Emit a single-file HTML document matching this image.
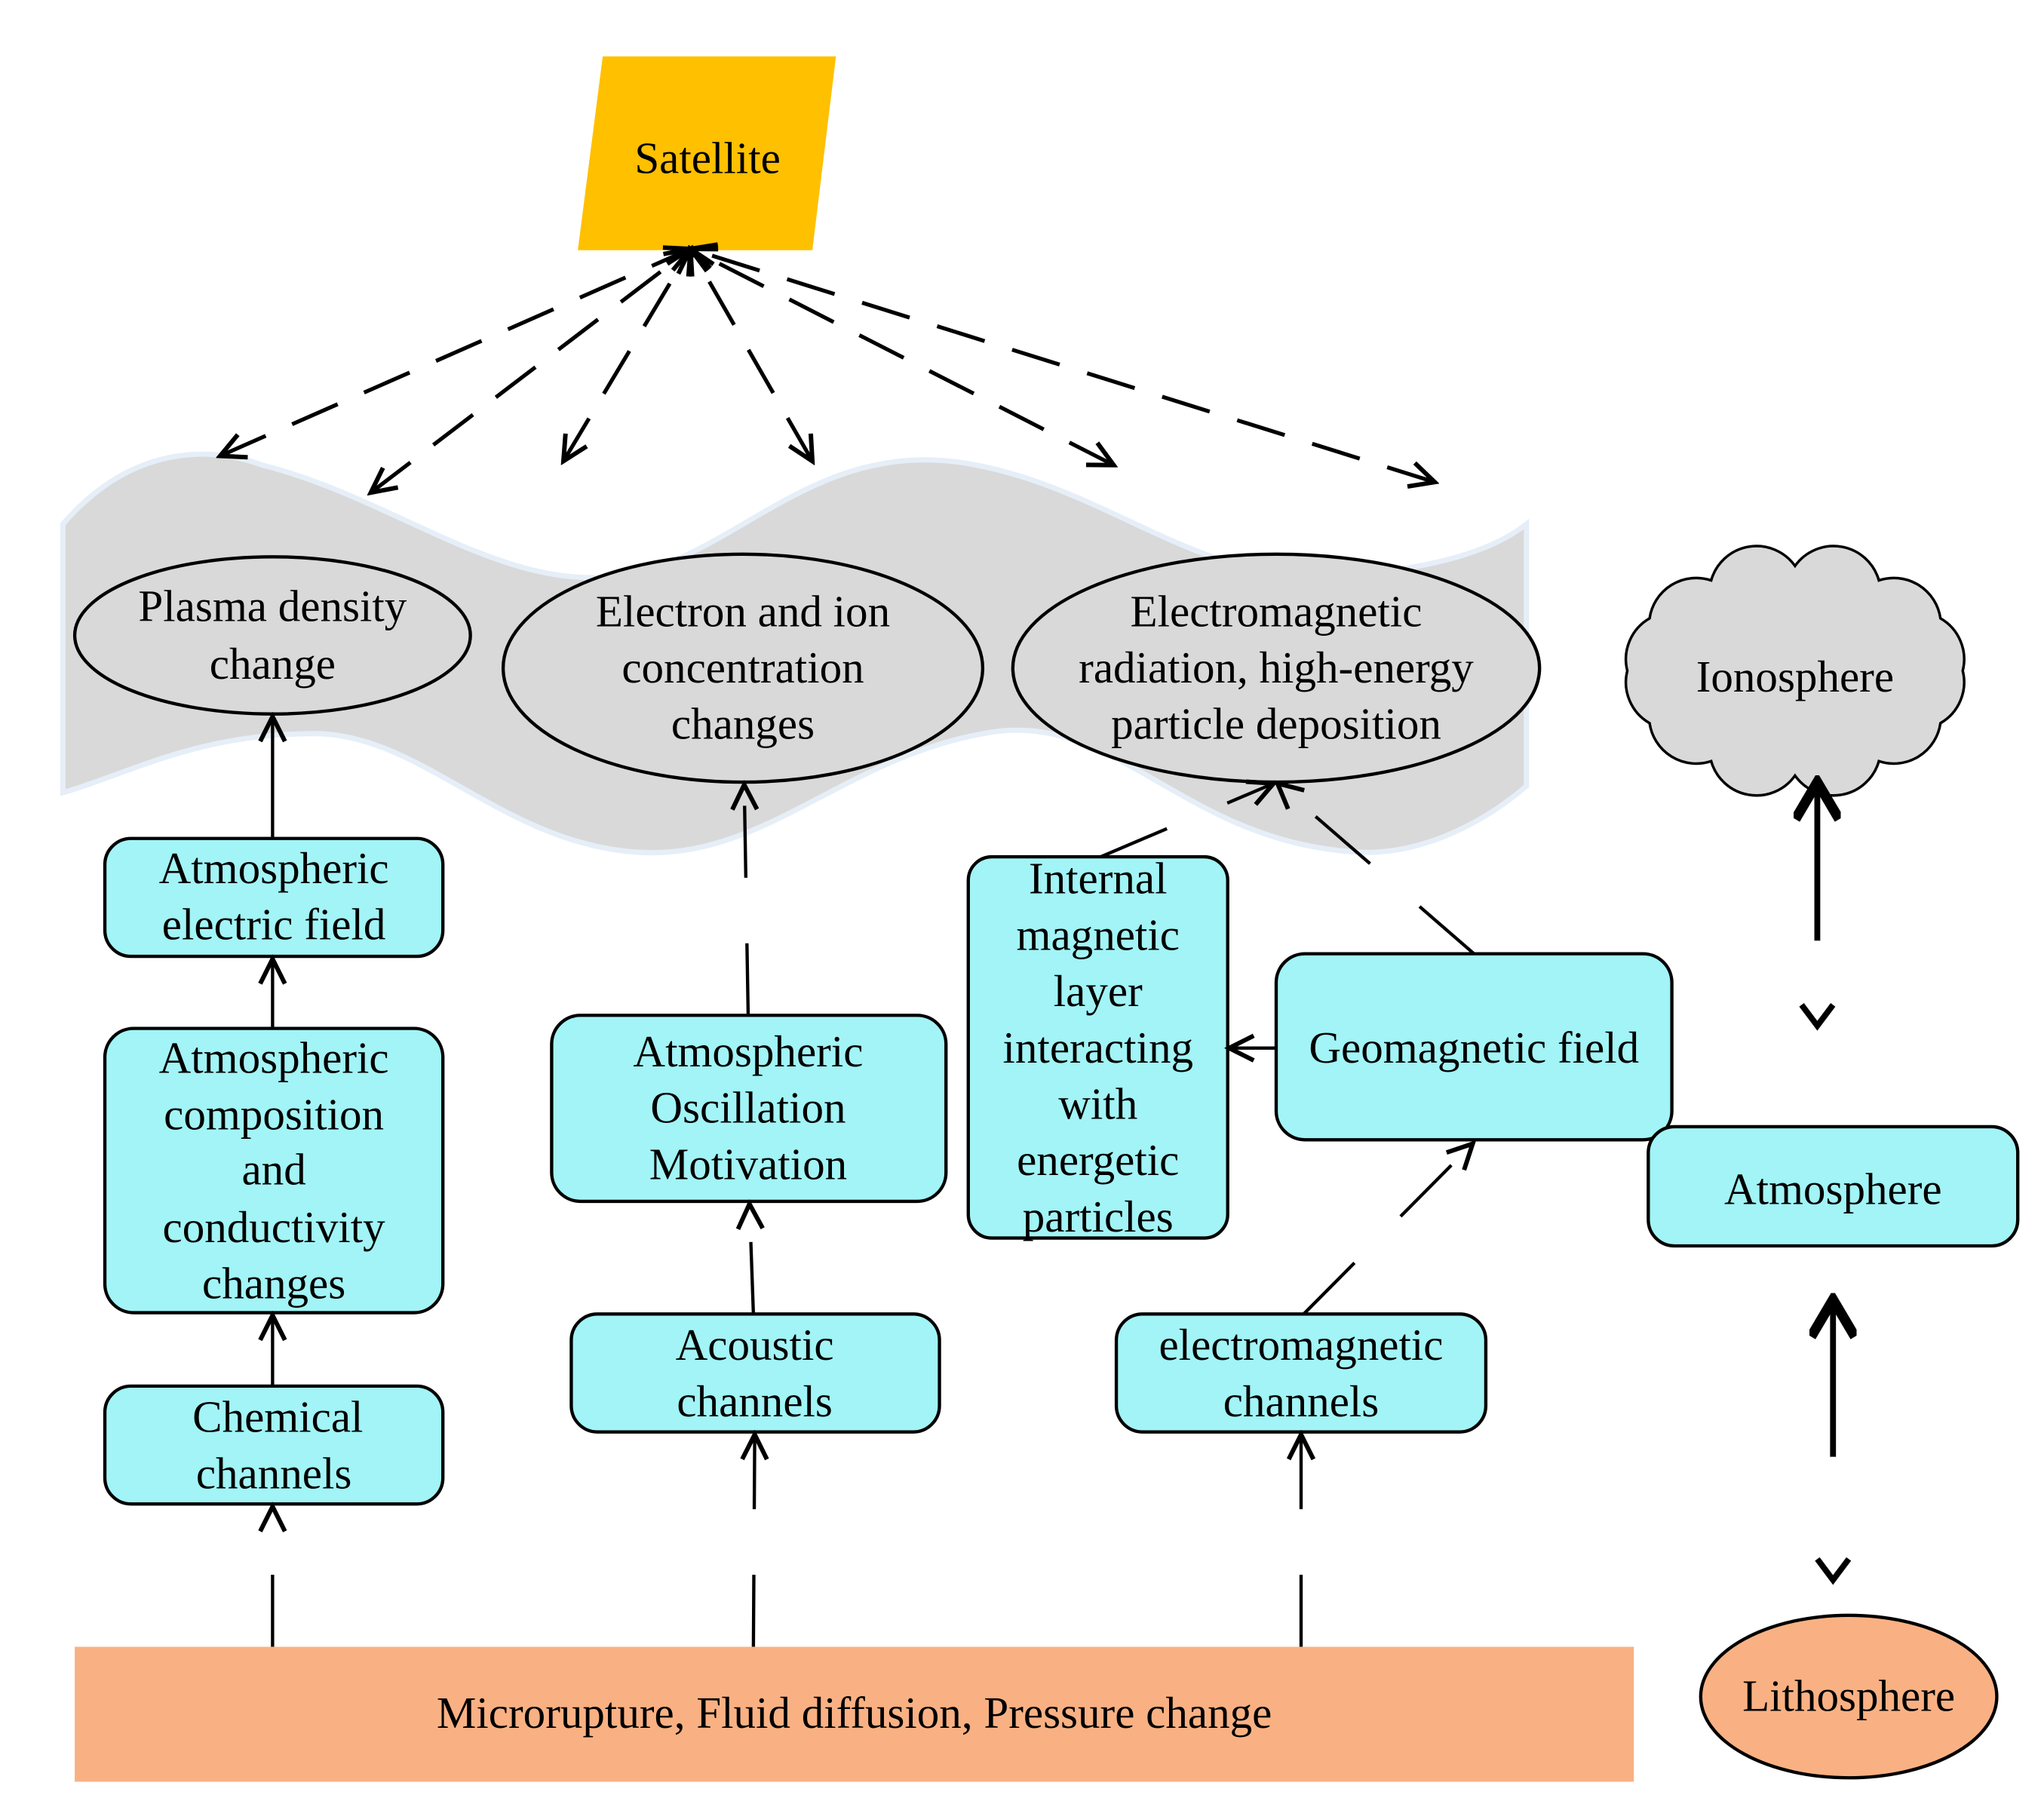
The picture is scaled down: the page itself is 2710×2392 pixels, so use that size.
<!DOCTYPE html>
<html><head><meta charset="utf-8"><style>
html,body{margin:0;padding:0;background:#fff;}
svg{display:block;}
text{font-family:"Liberation Serif",serif;font-size:34px;fill:#000;text-anchor:middle;}
</style></head><body>
<svg width="2710" height="2392" viewBox="0 0 1560 1377" xmlns="http://www.w3.org/2000/svg">
<defs>
<marker id="a" markerUnits="userSpaceOnUse" markerWidth="24" markerHeight="24" refX="12" refY="6" orient="auto-start-reverse" viewBox="0 0 14 12">
<path d="M1,0.5 L12,6 L1,11.5" fill="none" stroke="#000" stroke-width="2"/>
</marker>
<marker id="b" markerUnits="userSpaceOnUse" markerWidth="36" markerHeight="36" refX="12" refY="7" orient="auto" viewBox="0 0 14 14">
<path d="M1,0.5 L12,7 L1,13.5" fill="none" stroke="#000" stroke-width="3"/>
</marker>
</defs>

<path d="M48,400 C100,340 160,340 200,355 C300,380 380,450 470,440 C560,430 620,330 745,355 C850,375 920,450 1030,440 C1100,432 1140,420 1165,400 L1165,600 C1130,630 1080,655 1030,650 C900,640 850,540 750,560 C640,580 580,660 480,650 C380,640 320,560 240,560 C150,560 100,590 48,605 Z" fill="#d9d9d9" stroke="#e6eef8" stroke-width="4"/>

<polygon points="460,43 638,43 620,191 441,191" fill="#ffc000"/>
<text x="540" y="132">Satellite</text>

<g stroke="#000" stroke-width="3" fill="none" stroke-dasharray="38 22" marker-end="url(#a)" marker-start="url(#a)">
<line x1="168" y1="348" x2="527" y2="190"/>
<line x1="283" y1="376" x2="527" y2="190"/>
<line x1="430" y1="352" x2="527" y2="190"/>
<line x1="620" y1="352" x2="527" y2="190"/>
<line x1="850" y1="355" x2="527" y2="190"/>
<line x1="1095" y1="368" x2="527" y2="190"/>
</g>

<g fill="#d9d9d9" stroke="#000" stroke-width="2.5">
<ellipse cx="208" cy="485" rx="151" ry="60"/>
<ellipse cx="567" cy="510" rx="183" ry="87"/>
<ellipse cx="974" cy="510" rx="201" ry="87"/>
</g>
<text x="208" y="474">Plasma density</text>
<text x="208" y="518">change</text>
<text x="567" y="478">Electron and ion</text>
<text x="567" y="521">concentration</text>
<text x="567" y="564">changes</text>
<text x="974" y="478">Electromagnetic</text>
<text x="974" y="521">radiation, high-energy</text>
<text x="974" y="564">particle deposition</text>

<path d="M1242,512 A36,36 0 0 1 1259,472 A36,36 0 0 1 1306,443 A36,36 0 0 1 1370,432 A36,36 0 0 1 1434,443 A36,36 0 0 1 1481,472 A36,36 0 0 1 1498,512 A36,36 0 0 1 1481,552 A36,36 0 0 1 1434,581 A36,36 0 0 1 1370,592 A36,36 0 0 1 1306,581 A36,36 0 0 1 1259,552 A36,36 0 0 1 1242,512 Z" fill="#d9d9d9" stroke="#000" stroke-width="2"/>
<text x="1370" y="528">Ionosphere</text>

<g fill="#a2f4f6" stroke="#000" stroke-width="2.5">
<rect x="80" y="640" width="258" height="90" rx="20"/>
<rect x="80" y="785" width="258" height="217" rx="22"/>
<rect x="80" y="1058" width="258" height="90" rx="20"/>
<rect x="421" y="775" width="301" height="142" rx="22"/>
<rect x="436" y="1003" width="281" height="90" rx="20"/>
<rect x="739" y="654" width="198" height="291" rx="18"/>
<rect x="974" y="728" width="302" height="142" rx="22"/>
<rect x="852" y="1003" width="282" height="90" rx="20"/>
<rect x="1258" y="860" width="282" height="91" rx="20"/>
</g>
<text x="209" y="674">Atmospheric</text>
<text x="209" y="717">electric field</text>
<text x="209" y="819">Atmospheric</text>
<text x="209" y="862">composition</text>
<text x="209" y="904">and</text>
<text x="209" y="948">conductivity</text>
<text x="209" y="991">changes</text>
<text x="212" y="1093">Chemical</text>
<text x="209" y="1136">channels</text>
<text x="571" y="814">Atmospheric</text>
<text x="571" y="857">Oscillation</text>
<text x="571" y="900">Motivation</text>
<text x="576" y="1038">Acoustic</text>
<text x="576" y="1081">channels</text>
<text x="838" y="682">Internal</text>
<text x="838" y="725">magnetic</text>
<text x="838" y="768">layer</text>
<text x="838" y="811">interacting</text>
<text x="838" y="854">with</text>
<text x="838" y="897">energetic</text>
<text x="838" y="940">particles</text>
<text x="1125" y="811">Geomagnetic field</text>
<text x="993" y="1038">electromagnetic</text>
<text x="993" y="1081">channels</text>
<text x="1399" y="919">Atmosphere</text>

<rect x="57" y="1257" width="1190" height="103" fill="#f9b183"/>
<text x="652" y="1319">Microrupture, Fluid diffusion, Pressure change</text>
<ellipse cx="1411" cy="1295" rx="113" ry="62" fill="#f9b183" stroke="#000" stroke-width="2.5"/>
<text x="1411" y="1306">Lithosphere</text>

<g stroke="#000" stroke-width="2.5" fill="none" marker-end="url(#a)">
<line x1="208" y1="640" x2="208" y2="547"/>
<line x1="208" y1="785" x2="208" y2="732"/>
<line x1="208" y1="1058" x2="208" y2="1004"/>
<line x1="974" y1="800" x2="938" y2="800"/>
</g>
<g stroke="#000" stroke-width="2.5" fill="none" stroke-dasharray="55 50" marker-end="url(#a)">
<line x1="208" y1="1257" x2="208" y2="1150"/>
<line x1="571" y1="775" x2="568" y2="599"/>
<line x1="575" y1="1003" x2="572" y2="919"/>
<line x1="575" y1="1257" x2="576" y2="1095"/>
<line x1="993" y1="1257" x2="993" y2="1095"/>
<line x1="995" y1="1003" x2="1124" y2="873"/>
<line x1="840" y1="654" x2="972" y2="598"/>
<line x1="1125" y1="728" x2="975" y2="598"/>
</g>

<g stroke="#000" stroke-width="4.5" fill="none">
<line x1="1387" y1="718" x2="1387" y2="597" marker-end="url(#b)"/>
<path d="M1375,767 L1387,783 L1399,767"/>
<line x1="1399" y1="1112" x2="1399" y2="992" marker-end="url(#b)"/>
<path d="M1387,1190 L1399,1206 L1411,1190"/>
</g>
</svg>
</body></html>
